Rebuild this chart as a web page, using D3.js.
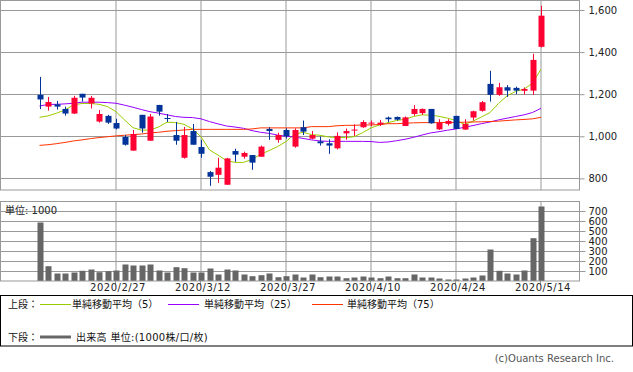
<!DOCTYPE html>
<html><head><meta charset="utf-8">
<script src="https://cdn.jsdelivr.net/npm/d3@7"></script>
<style>
html,body{margin:0;padding:0;background:#fff;}
svg{display:block;}
text{font-family:"DejaVu Sans","Noto Sans CJK JP",sans-serif;}
</style></head>
<body>
<svg id="c" width="633" height="372"></svg>
<script>
const dates = ["2020/2/13","2020/2/14","2020/2/17","2020/2/18","2020/2/19","2020/2/20","2020/2/21","2020/2/25","2020/2/26","2020/2/27",
"2020/2/28","2020/3/2","2020/3/3","2020/3/4","2020/3/5","2020/3/6","2020/3/9","2020/3/10","2020/3/11","2020/3/12",
"2020/3/13","2020/3/16","2020/3/17","2020/3/18","2020/3/19","2020/3/23","2020/3/24","2020/3/25","2020/3/26","2020/3/27",
"2020/3/30","2020/3/31","2020/4/1","2020/4/2","2020/4/3","2020/4/6","2020/4/7","2020/4/8","2020/4/9","2020/4/10",
"2020/4/13","2020/4/14","2020/4/15","2020/4/16","2020/4/17","2020/4/20","2020/4/21","2020/4/22","2020/4/23","2020/4/24",
"2020/4/27","2020/4/28","2020/4/30","2020/5/1","2020/5/7","2020/5/8","2020/5/11","2020/5/12","2020/5/13","2020/5/14"];
const open  = [1197,1141,1152,1130,1108,1202,1156,1070,1097,1063, 997,932,1102,979,1149,1087,1006,898,1025,949, 830,817,770,930,903,911,903,1035,983,1030, 951,1043,989,976,967,943,1014,1029,1043,1062, 1056,1089,1092,1049,1106,1110,1130,1033,1059,1097, 1032,1089,1121,1249,1197,1233,1230,1216,1217,1425];
const high  = [1282,1187,1168,1141,1192,1202,1192,1125,1102,1083, 1006,1030,1102,1106,1149,1106,1068,1044,1059,983, 835,898,898,941,927,911,956,1043,1017,1038, 1038,1075,1025,998,986,1019,1037,1057,1076,1075, 1078,1094,1094,1094,1148,1132,1130,1081,1081,1097, 1081,1122,1168,1311,1254,1243,1236,1232,1392,1620];
const low   = [1129,1122,1127,1098,1106,1165,1132,1065,1059,1033, 956,932,1017,979,1098,1068,960,894,960,898, 765,779,770,879,894,841,903,983,970,989, 946,1006,986,956,917,938,984,1002,1040,1048, 1049,1067,1075,1049,1098,1102,1060,1030,1051,1035, 1030,1075,1117,1165,1192,1187,1200,1198,1197,1422];
const close = [1175,1163,1141,1108,1183,1184,1183,1106,1065,1037, 960,1011,1037,1094,1117,1084,979,1006,960,917, 808,851,895,913,921,875,951,1025,1006,1000, 1030,1022,1006,967,956,1002,1025,1032,1068,1065, 1065,1081,1079,1090,1130,1130,1062,1065,1073,1035, 1059,1119,1162,1197,1233,1217,1217,1225,1363,1573];
const ma5   = [1090,1097,1110,1125,1149,1156,1156,1152,1141,1117, 1078,1041,1029,1030,1044,1067,1065,1057,1035,998, 935,911,884,876,876,890,914,932,951,975, 1010,1019,1008,1005,997,994,994,998,1017,1040, 1054,1065,1075,1081,1094,1102,1100,1095,1086,1075, 1057,1072,1092,1113,1156,1192,1213,1224,1252,1319];
const ma25  = [1144,1151,1152,1154,1157,1162,1162,1162,1160,1157, 1148,1138,1127,1117,1110,1102,1094,1090,1089,1083, 1070,1059,1049,1044,1038,1027,1019,1014,1006,1000, 997,990,983,978,976,976,976,976,976,975, 971,973,979,986,995,1006,1016,1022,1029,1035, 1043,1051,1060,1068,1078,1086,1094,1102,1113,1133];
const ma75  = [957,960,965,971,978,983,989,994,998,1002, 1005,1008,1011,1016,1019,1024,1027,1030,1033,1033, 1033,1033,1033,1033,1033,1035,1040,1040,1040,1040, 1040,1040,1046,1046,1046,1050,1052,1052,1054,1054, 1056,1060,1060,1062,1064,1065,1065,1065,1066,1066, 1067,1068,1069,1070,1072,1075,1078,1080,1083,1090];
const volume = [585,148,75,75,85,102,115,88,98,105, 165,155,155,165,105,85,138,128,85,85, 125,65,115,105,65,48,58,75,38,48, 65,35,65,38,45,45,28,35,45,35, 28,45,28,28,65,35,35,25,15,15, 25,35,55,315,102,75,65,105,428,745];
const dateTicks = ["2020/2/27","2020/3/12","2020/3/27","2020/4/10","2020/4/24","2020/5/14"];
const priceTicks = [800,1000,1200,1400,1600];
const volTicks = [100,200,300,400,500,600,700];
const maNames = ["単純移動平均（5）","単純移動平均（25）","単純移動平均（75）"];
const volName = "出来高 単位:(1000株/口/枚)";

const UP="#ff0033", DOWN="#003399", GRID="#999999";
const maColors = ["#99cc00","#9900ff","#ff3300"];
const svg = d3.select("#c");

const x = d3.scaleBand().domain(dates).range([35.25,545.25]).padding(0);
const cx = d => x(d) + x.bandwidth()/2;
const y = d3.scaleLinear().domain([745,1645]).range([190,0.5]);
const yv = d3.scaleLinear().domain([0,800]).range([281,201]);
const L=0.5, R=579.5;
const crisp = v => Math.round(v)+0.5;

// ---- price panel grid
const gP = svg.append("g");
gP.selectAll("line.h").data(priceTicks).join("line")
  .attr("x1",L).attr("x2",R).attr("y1",d=>crisp(y(d))).attr("y2",d=>crisp(y(d)))
  .attr("stroke",GRID);
gP.selectAll("line.v").data(dateTicks).join("line")
  .attr("x1",d=>crisp(cx(d))-0.5).attr("x2",d=>crisp(cx(d))-0.5).attr("y1",0.5).attr("y2",190)
  .attr("stroke",GRID);
gP.append("rect").attr("x",L).attr("y",0.5).attr("width",R-L).attr("height",189.5)
  .attr("fill","none").attr("stroke",GRID);

const axP = svg.append("g").attr("transform",`translate(${R},0)`)
  .call(d3.axisRight(y).tickValues(priceTicks).tickSize(5).tickPadding(4).tickFormat(d3.format(",")));
axP.select(".domain").remove();
axP.selectAll(".tick line").attr("stroke",GRID);
axP.selectAll("text").attr("font-size",10).attr("fill","#222").attr("font-family","DejaVu Sans");

// ---- moving averages
const idx = d3.range(dates.length);
[ma5,ma25,ma75].forEach((arr,k)=>{
  svg.append("path").datum(idx)
    .attr("d", d3.line().x(i=>cx(dates[i])).y(i=>y(arr[i])))
    .attr("fill","none").attr("stroke",maColors[k]).attr("stroke-width",1);
});

// ---- candles
const gC = svg.append("g");
idx.forEach(i=>{
  const up = close[i] >= open[i];
  const col = up ? UP : DOWN;
  const xc = Math.round(cx(dates[i]))+0.5;
  gC.append("line").attr("x1",xc).attr("x2",xc).attr("y1",y(high[i])).attr("y2",y(low[i]))
    .attr("stroke",col).attr("stroke-width",1);
  const top = y(Math.max(open[i],close[i])), bot = y(Math.min(open[i],close[i]));
  gC.append("rect").attr("x",xc-3).attr("y",top).attr("width",6).attr("height",Math.max(1,bot-top))
    .attr("fill",col);
});

// ---- volume panel
const gV = svg.append("g");
gV.selectAll("line.h").data(volTicks).join("line")
  .attr("x1",L).attr("x2",R).attr("y1",d=>crisp(yv(d))).attr("y2",d=>crisp(yv(d)))
  .attr("stroke",GRID);
gV.selectAll("line.v").data(dateTicks).join("line")
  .attr("x1",d=>crisp(cx(d))-0.5).attr("x2",d=>crisp(cx(d))-0.5).attr("y1",201.5).attr("y2",281)
  .attr("stroke",GRID);
gV.append("text").attr("x",5).attr("y",214).attr("font-size",10).attr("fill","#222").text("単位: 1000");
gV.selectAll("rect.bar").data(idx).join("rect")
  .attr("x",i=>Math.round(cx(dates[i]))-2.5).attr("width",6)
  .attr("y",i=>yv(volume[i])).attr("height",i=>yv(0)-yv(volume[i]))
  .attr("fill","#666666");
gV.append("rect").attr("x",L).attr("y",201.5).attr("width",R-L).attr("height",79.5)
  .attr("fill","none").attr("stroke",GRID);

const axV = svg.append("g").attr("transform",`translate(${R},0)`)
  .call(d3.axisRight(yv).tickValues(volTicks).tickSize(6).tickPadding(3).tickFormat(d3.format("d")));
axV.select(".domain").remove();
axV.selectAll(".tick line").attr("stroke",GRID);
axV.selectAll("text").attr("font-size",10).attr("fill","#222").attr("font-family","DejaVu Sans");

const axX = svg.append("g").attr("transform",`translate(0,281)`)
  .call(d3.axisBottom(x).tickValues(dateTicks).tickSize(3).tickPadding(0));
axX.select(".domain").remove();
axX.selectAll(".tick line").attr("stroke",GRID).attr("transform","translate(-0.5,0)");
axX.selectAll("text").attr("font-size",10).attr("fill","#222").attr("x",2)
  .attr("font-family","DejaVu Sans").style("letter-spacing","0.5px");

// ---- legend
const lg = svg.append("g");
lg.append("rect").attr("x",0.5).attr("y",295.5).attr("width",632).attr("height",50.5)
  .attr("fill","none").attr("stroke","#000");
lg.append("text").attr("x",8).attr("y",308).attr("font-size",10).attr("fill","#111").text("上段：");
lg.append("text").attr("x",8).attr("y",340.5).attr("font-size",10).attr("fill","#111").text("下段：");
const lx = [40,168,312], tx=[72,204,347];
maNames.forEach((n,k)=>{
  lg.append("line").attr("x1",lx[k]).attr("x2",lx[k]+31).attr("y1",304.5).attr("y2",304.5).attr("stroke",maColors[k]);
  lg.append("text").attr("x",tx[k]).attr("y",308).attr("font-size",10).attr("fill","#111").text(n);
});
lg.append("line").attr("x1",40).attr("x2",71).attr("y1",337).attr("y2",337).attr("stroke","#666").attr("stroke-width",3);
lg.append("text").attr("x",76).attr("y",340.5).attr("font-size",10).attr("fill","#111")
  .style("letter-spacing","0.3px").text(volName);

svg.append("text").attr("x",614).attr("y",362).attr("text-anchor","end")
  .attr("font-family","Liberation Sans").attr("font-size",10).attr("fill","#555")
  .text("(c)Ouants Research Inc.");
</script>
</body></html>
